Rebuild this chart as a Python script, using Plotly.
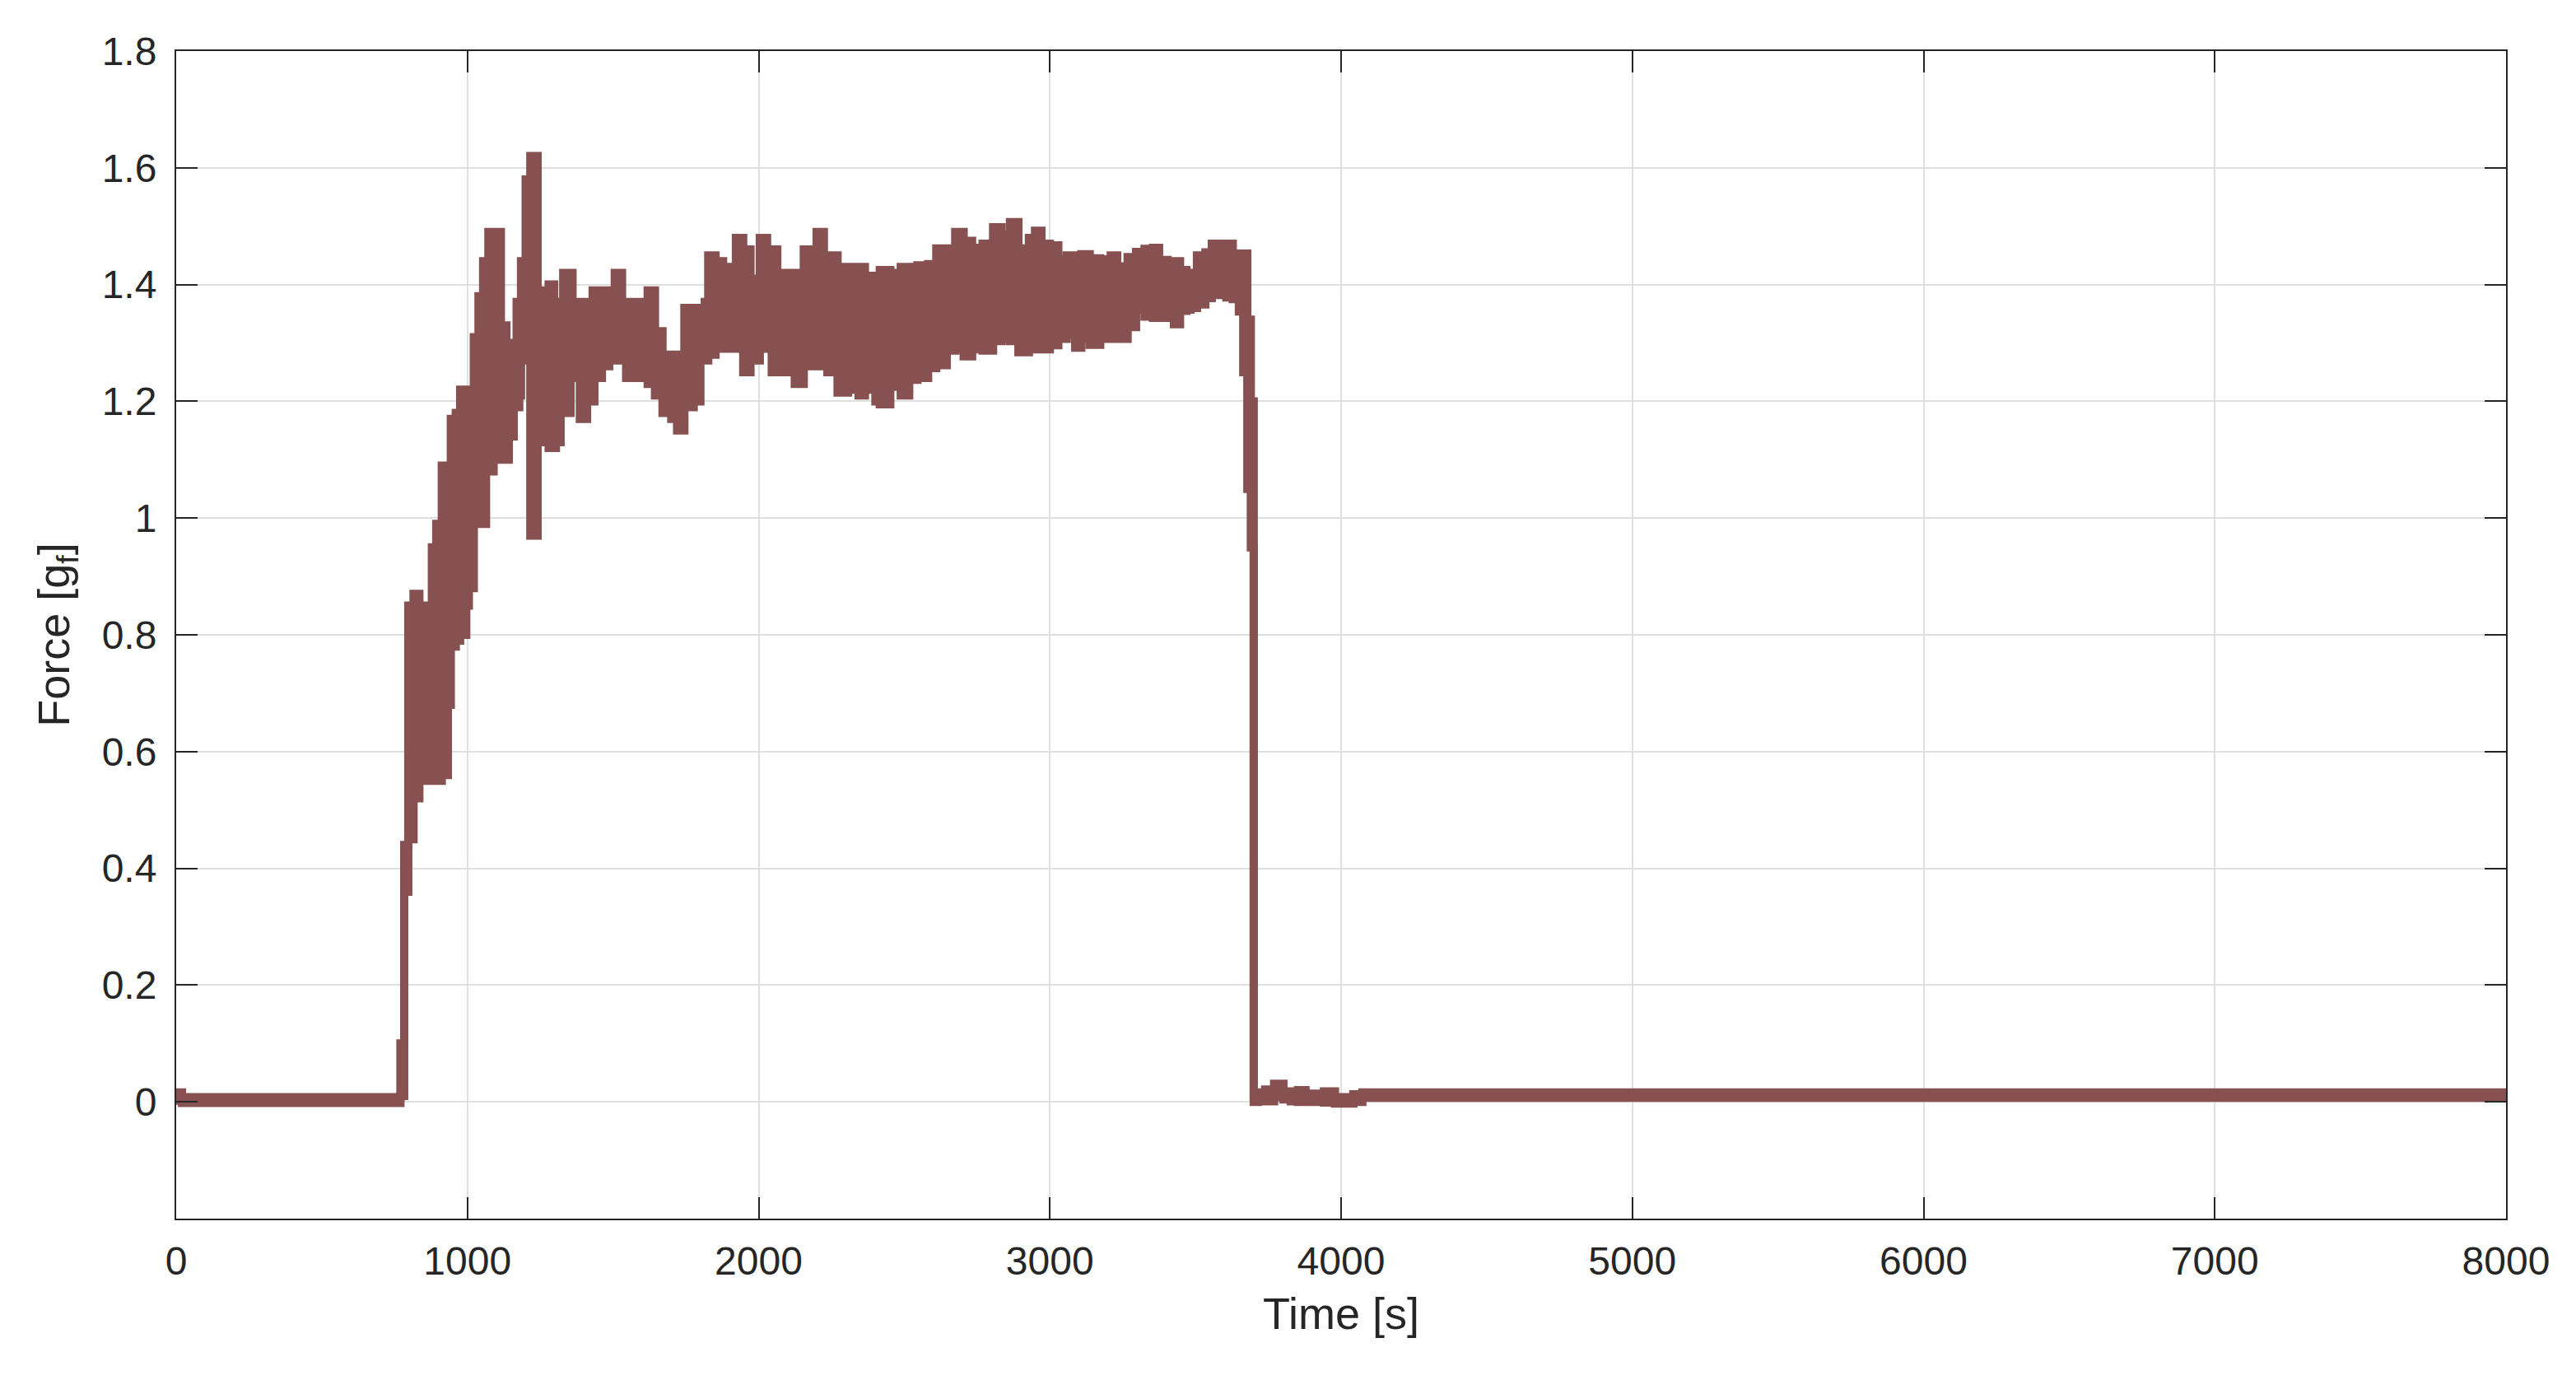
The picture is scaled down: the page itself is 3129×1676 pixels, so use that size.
import plotly.graph_objects as go

# upper / lower envelope of the fast oscillating force signal
TIME = [
    0, 20, 770, 783, 797, 815, 835, 850, 862, 878, 893, 912, 933, 943, 960, 975,
    996, 1005, 1022, 1038, 1054, 1064, 1072, 1090, 1111, 1115, 1134, 1142, 1153, 1159, 1169, 1178,
    1184, 1200, 1216, 1241, 1260, 1279, 1298, 1304, 1320, 1329, 1354, 1361, 1386, 1411, 1430, 1436,
    1462, 1487, 1506, 1518, 1531, 1545, 1562, 1619, 1644, 1670, 1700, 1720, 1745, 1777, 1800, 1815,
    1827, 1852, 1878, 1922, 1947, 1972, 2004, 2029, 2045, 2064, 2124, 2155, 2199, 2224, 2236, 2271,
    2307, 2343, 2365, 2401, 2416, 2452, 2488, 2517, 2545, 2582, 2610, 2646, 2675, 2704, 2733, 2769,
    2805, 2834, 2863, 2892, 2928, 2949, 2971, 3000, 3029, 3058, 3087, 3108, 3137, 3173, 3209, 3231,
    3267, 3296, 3325, 3354, 3375, 3404, 3426, 3447, 3469, 3483, 3505, 3534, 3556, 3584, 3606, 3628,
    3649, 3664, 3678, 3690, 3700, 3714, 3739, 3770, 3802, 3827, 3852, 3878, 3941, 3979, 4042, 4073,
    8000,
]
UPPER = [
    0.016, 0.008, 0.10, 0.44, 0.85, 0.87, 0.85, 0.82, 0.78, 0.95, 0.99, 1.09, 1.09, 1.17, 1.18, 1.22,
    1.22, 1.19, 1.31, 1.38, 1.44, 1.44, 1.49, 1.49, 1.49, 1.33, 1.30, 1.30, 1.27, 1.27, 1.37, 1.37,
    1.44, 1.58, 1.62, 1.37, 1.39, 1.40, 1.37, 1.37, 1.37, 1.42, 1.42, 1.37, 1.35, 1.37, 1.39, 1.39,
    1.39, 1.39, 1.42, 1.42, 1.37, 1.37, 1.37, 1.39, 1.32, 1.28, 1.28, 1.28, 1.36, 1.36, 1.36, 1.37,
    1.45, 1.44, 1.43, 1.48, 1.46, 1.41, 1.48, 1.46, 1.46, 1.42, 1.42, 1.46, 1.49, 1.45, 1.45, 1.43,
    1.43, 1.43, 1.415, 1.40, 1.425, 1.42, 1.43, 1.42, 1.433, 1.435, 1.462, 1.462, 1.49, 1.475, 1.463, 1.47,
    1.498, 1.485, 1.507, 1.462, 1.48, 1.492, 1.47, 1.467, 1.443, 1.45, 1.438, 1.452, 1.445, 1.443, 1.45, 1.431,
    1.447, 1.456, 1.461, 1.463, 1.442, 1.44, 1.44, 1.425, 1.415, 1.42, 1.45, 1.455, 1.47, 1.461, 1.47, 1.421,
    1.453, 1.453, 1.34, 1.20, 0.012, 0.016, 0.021, 0.031, 0.018, 0.016, 0.020, 0.014, 0.018, 0.008, 0.013, 0.016,
    0.016,
]
LOWER = [
    0.002, -0.002, 0.01, 0.36, 0.45, 0.52, 0.58, 0.58, 0.55, 0.55, 0.55, 0.56, 0.68, 0.78, 0.79, 0.80,
    0.85, 0.88, 0.99, 0.99, 0.99, 1.08, 1.08, 1.14, 1.10, 1.10, 1.10, 1.14, 1.14, 1.19, 1.19, 1.21,
    1.27, 1.27, 0.97, 1.13, 1.13, 1.12, 1.12, 1.13, 1.18, 1.18, 1.24, 1.24, 1.17, 1.20, 1.20, 1.24,
    1.26, 1.27, 1.27, 1.30, 1.28, 1.24, 1.24, 1.23, 1.21, 1.18, 1.17, 1.15, 1.19, 1.20, 1.27, 1.27,
    1.28, 1.31, 1.29, 1.29, 1.25, 1.27, 1.30, 1.29, 1.25, 1.25, 1.23, 1.26, 1.26, 1.26, 1.25, 1.215,
    1.22, 1.21, 1.22, 1.20, 1.195, 1.225, 1.21, 1.237, 1.24, 1.257, 1.262, 1.287, 1.289, 1.277, 1.289, 1.287,
    1.303, 1.307, 1.303, 1.284, 1.289, 1.30, 1.289, 1.296, 1.307, 1.314, 1.292, 1.307, 1.297, 1.307, 1.312, 1.307,
    1.327, 1.357, 1.345, 1.343, 1.343, 1.35, 1.332, 1.355, 1.357, 1.36, 1.366, 1.377, 1.382, 1.382, 1.378, 1.375,
    1.354, 1.25, 1.05, 0.95, 0.0, 0.001, 0.001, 0.008, 0.004, 0.001, 0.0, 0.0, -0.001, -0.003, 0.0, 0.007,
    0.007,
]

X_TICKS = [0, 1000, 2000, 3000, 4000, 5000, 6000, 7000, 8000]
Y_TICKS = [0, 0.2, 0.4, 0.6, 0.8, 1.0, 1.2, 1.4, 1.6, 1.8]
Y_TICK_TEXT = ["0", "0.2", "0.4", "0.6", "0.8", "1", "1.2", "1.4", "1.6", "1.8"]

LINE_COLOR = "#875151"
AXIS_COLOR = "#262626"
FONT = "Liberation Sans, Arial, Helvetica, sans-serif"

fig = go.Figure()
fig.add_trace(go.Scatter(
    x=TIME, y=LOWER, mode="lines",
    line=dict(color=LINE_COLOR, width=10, shape="hv"),
    showlegend=False, hoverinfo="skip",
))
fig.add_trace(go.Scatter(
    x=TIME, y=UPPER, mode="lines",
    line=dict(color=LINE_COLOR, width=10, shape="hv"),
    fill="tonexty", fillcolor=LINE_COLOR,
    showlegend=False,
))

axis_common = dict(
    showline=True, linecolor=AXIS_COLOR, linewidth=2, mirror="ticks",
    ticks="inside", ticklen=26, tickwidth=2, tickcolor=AXIS_COLOR,
    showgrid=True, gridcolor="#dfdfdf", gridwidth=2,
    zeroline=False, tickfont=dict(family=FONT, size=48, color=AXIS_COLOR),
)

fig.update_xaxes(
    range=[0, 8000], tickmode="array", tickvals=X_TICKS,
    title=dict(text="Time [s]", font=dict(family=FONT, size=54, color=AXIS_COLOR), standoff=20),
    ticklabelstandoff=8,
    **axis_common,
)
fig.update_yaxes(
    range=[-0.2, 1.8], tickmode="array", tickvals=Y_TICKS, ticktext=Y_TICK_TEXT,
    title=dict(text="Force [g<sub>f</sub>]", font=dict(family=FONT, size=54, color=AXIS_COLOR), standoff=22),
    ticklabelstandoff=12,
    **axis_common,
)

fig.update_layout(
    width=3129, height=1676,
    margin=dict(l=206, r=93, t=54, b=204, autoexpand=False),
    paper_bgcolor="white", plot_bgcolor="white",
    font=dict(family=FONT, color=AXIS_COLOR),
)

fig.write_html("out.html")
